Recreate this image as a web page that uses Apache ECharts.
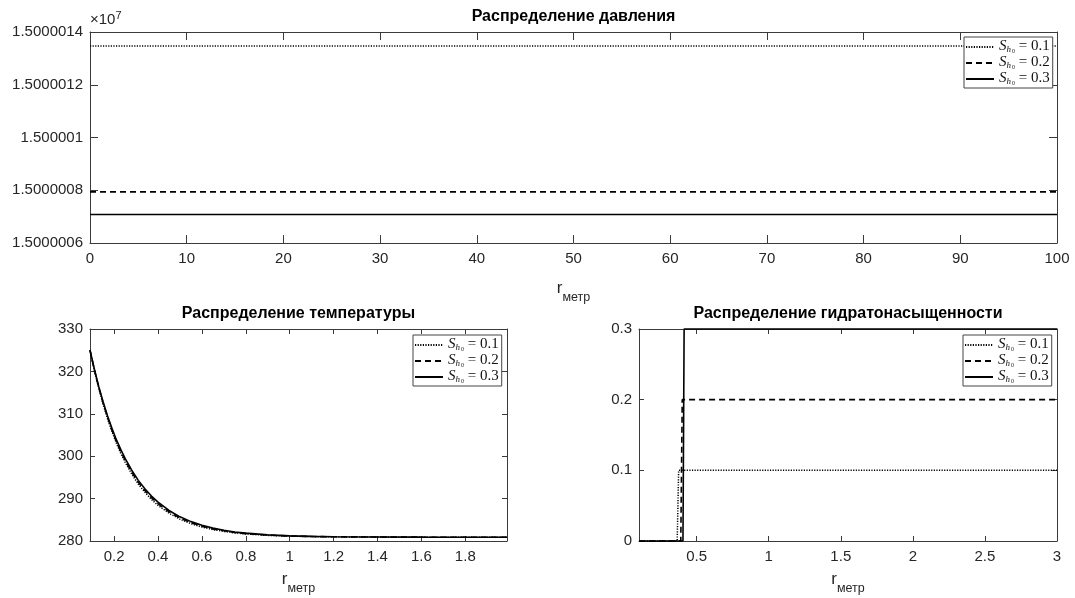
<!DOCTYPE html>
<html>
<head>
<meta charset="utf-8">
<script src="https://cdn.jsdelivr.net/npm/echarts@6/dist/echarts.min.js"></script>
<style>html,body{margin:0;padding:0;background:#fff;}#c{width:1075px;height:598px;}</style>
</head>
<body>
<div id="c"></div>
<script>
// ---- data ----
const presX = [0, 10, 20, 30, 40, 50, 60, 70, 80, 90, 100];
const presS1 = [15000013.47, 15000013.47, 15000013.47, 15000013.47, 15000013.47, 15000013.47, 15000013.47, 15000013.47, 15000013.47, 15000013.47, 15000013.47];
const presS2 = [15000007.94, 15000007.94, 15000007.94, 15000007.94, 15000007.94, 15000007.94, 15000007.94, 15000007.94, 15000007.94, 15000007.94, 15000007.94];
const presS3 = [15000007.08, 15000007.08, 15000007.08, 15000007.08, 15000007.08, 15000007.08, 15000007.08, 15000007.08, 15000007.08, 15000007.08, 15000007.08];

const tempX = [0.09,0.11,0.13,0.15,0.17,0.19,0.21,0.23,0.25,0.28,0.31,0.34,0.37,0.40,0.45,0.50,0.55,0.60,0.65,0.70,0.75,0.80,0.90,1.00,1.10,1.20,1.40,1.60,1.80,1.99];
const tempS1 = [325.0,320.2,316.0,312.2,308.8,305.8,303.1,300.7,298.6,295.8,293.4,291.5,289.8,288.4,286.54,285.14,284.08,283.29,282.7,282.25,281.91,281.66,281.33,281.14,281.04,280.98,280.92,280.9,280.9,280.9];
const tempS2 = [325.0,320.35,316.2,312.5,309.15,306.2,303.5,301.15,299.05,296.25,293.85,291.9,290.2,288.8,286.9,285.4,284.3,283.5,282.85,282.4,282.0,281.75,281.4,281.18,281.06,281.0,280.93,280.9,280.9,280.9];
const tempS3 = [325.0,320.5,316.4,312.8,309.5,306.6,303.9,301.6,299.5,296.7,294.3,292.3,290.6,289.15,287.2,285.7,284.57,283.7,283.04,282.53,282.14,281.85,281.45,281.22,281.09,281.01,280.94,280.91,280.9,280.9];

const hydX1 = [0.1, 0.365, 0.375, 3];
const hydS1 = [0, 0, 0.1, 0.1];
const hydX2 = [0.1, 0.39, 0.40, 3];
const hydS2 = [0, 0, 0.2, 0.2];
const hydX3 = [0.1, 0.405, 0.413, 3];
const hydS3 = [0, 0, 0.3, 0.3];

const titles = ['Распределение давления', 'Распределение температуры', 'Распределение гидратонасыщенности'];
const seriesNames = ['a', 'b', 'c'];
const legendValues = ['0.1', '0.2', '0.3'];
const tempXTicks = [0.2,0.4,0.6,0.8,1,1.2,1.4,1.6,1.8];
const hydXTicks = [0.5,1,1.5,2,2.5,3];

// ---- helpers ----
const zip = (xs, ys) => xs.map((x, i) => [x, ys[i]]);
const AX = '#3a3a3a';
const TXT = '#262626';
const SANS = 'Liberation Sans, Arial, Helvetica, sans-serif';
const SERIF = 'Liberation Serif, DejaVu Serif, serif';
const styles = [
  {type: [1.2, 1.4], width: 1.5},
  {type: [6, 4], width: 1.6},
  {type: 'solid', width: 1.6}
];

const xNameStyle = {
  rich: {
    r: {fontFamily: SANS, fontSize: 17, color: TXT, padding: [0, 0, 8, 0]},
    s: {fontFamily: SANS, fontSize: 12.5, color: TXT, padding: [10, 0, 0, 0]}
  }
};

function bottomX(grid, min, max, interval, custom, gap) {
  const a = {
    gridIndex: grid, type: 'value', min: min, max: max, position: 'bottom',
    axisLine: {show: true, onZero: false, lineStyle: {color: AX, width: 1}},
    axisTick: {show: true, inside: true, length: grid === 0 ? 8 : 5, lineStyle: {color: AX}},
    axisLabel: {color: TXT, fontSize: 15, fontFamily: SANS, margin: 8},
    splitLine: {show: false},
    name: '{r|r}{s|метр}', nameLocation: 'middle', nameGap: gap, nameTextStyle: xNameStyle
  };
  if (interval) a.interval = interval;
  if (custom) { a.axisTick.customValues = custom; a.axisLabel.customValues = custom; }
  return a;
}
function topX(grid, min, max, interval, custom, title) {
  const a = {
    gridIndex: grid, type: 'value', min: min, max: max, position: 'top',
    axisLine: {show: true, onZero: false, lineStyle: {color: AX, width: 1}},
    axisTick: {show: true, inside: true, length: grid === 0 ? 8 : 5, lineStyle: {color: AX}},
    axisLabel: {show: false},
    splitLine: {show: false},
    name: title, nameLocation: 'middle', nameGap: 7,
    nameTextStyle: {fontFamily: SANS, fontWeight: 'bold', fontSize: 16, color: '#000', verticalAlign: 'bottom'}
  };
  if (interval) a.interval = interval;
  if (custom) { a.axisTick.customValues = custom; }
  return a;
}
function yAx(grid, min, max, interval, pos, fmt) {
  return {
    gridIndex: grid, type: 'value', min: min, max: max, interval: interval, position: pos,
    axisLine: {show: true, onZero: false, lineStyle: {color: AX, width: 1}},
    axisTick: {show: true, inside: true, length: grid === 0 ? 8 : 5, lineStyle: {color: AX}},
    axisLabel: pos === 'left' ? {color: TXT, fontSize: 15, fontFamily: SANS, margin: 7, formatter: fmt} : {show: false},
    splitLine: {show: false}
  };
}
function legendAt(left, top) {
  return {
    orient: 'vertical', left: left, top: top,
    data: seriesNames, selectedMode: false,
    itemWidth: 28, itemHeight: 14, itemGap: 1,
    padding: [2, 3, 2, 1],
    borderColor: '#444', borderWidth: 1, backgroundColor: '#fff',
    itemStyle: {opacity: 0},
    formatter: n => '{s|S}{h|h}{z|0}{e| = ' + legendValues[seriesNames.indexOf(n)] + '}',
    textStyle: {
      rich: {
        s: {fontFamily: SERIF, fontStyle: 'italic', fontSize: 15, color: '#111', padding: [0, 0, 1, 0]},
        h: {fontFamily: SERIF, fontStyle: 'italic', fontSize: 9, color: '#111', padding: [5, 0, 0, 0]},
        z: {fontFamily: SERIF, fontSize: 6, color: '#111', padding: [8, 0, 0, 1]},
        e: {fontFamily: SERIF, fontSize: 15, color: '#111', padding: [0, 0, 1, 0]}
      }
    }
  };
}
function line(name, xi, data, k) {
  return {
    type: 'line', name: name, xAxisIndex: xi, yAxisIndex: xi, data: data,
    symbol: 'none', showSymbol: false, clip: false, animation: false,
    lineStyle: {color: '#000', width: styles[k].width, type: styles[k].type},
    itemStyle: {color: '#000'}
  };
}

const presFmt = v => parseFloat((v / 1e7).toFixed(7)).toString();

const option = {
  animation: false,
  backgroundColor: '#fff',
  grid: [
    {left: 90, top: 32, width: 967, height: 211},
    {left: 90, top: 329, width: 417, height: 212},
    {left: 639, top: 329, width: 418, height: 212}
  ],
  xAxis: [
    bottomX(0, 0, 100, 10, null, 37),
    topX(0, 0, 100, 10, null, titles[0]),
    bottomX(1, 0.09, 1.99, null, tempXTicks, 30),
    topX(1, 0.09, 1.99, null, tempXTicks, titles[1]),
    bottomX(2, 0.1, 3, null, hydXTicks, 30),
    topX(2, 0.1, 3, null, hydXTicks, titles[2])
  ],
  yAxis: [
    yAx(0, 15000006, 15000014, 2, 'left', presFmt),
    yAx(0, 15000006, 15000014, 2, 'right'),
    yAx(1, 280, 330, 10, 'left'),
    yAx(1, 280, 330, 10, 'right'),
    yAx(2, 0, 0.3, 0.1, 'left'),
    yAx(2, 0, 0.3, 0.1, 'right')
  ],
  legend: [legendAt(964, 37), legendAt(413, 335), legendAt(963, 335)],
  graphic: [{
    type: 'text', left: 90, top: 10,
    style: {
      text: '×10{p|7}',
      font: '15px Liberation Sans', fill: TXT,
      rich: {p: {fontSize: 11, fontFamily: SANS, fill: TXT, color: TXT, padding: [0, 0, 9, 0]}}
    }
  }],
  series: [
    line('a', 0, zip(presX, presS1), 0),
    line('b', 0, zip(presX, presS2), 1),
    line('c', 0, zip(presX, presS3), 2),
    line('a', 2, zip(tempX, tempS1), 0),
    line('b', 2, zip(tempX, tempS2), 1),
    line('c', 2, zip(tempX, tempS3), 2),
    line('a', 4, zip(hydX1, hydS1), 0),
    line('b', 4, zip(hydX2, hydS2), 1),
    line('c', 4, zip(hydX3, hydS3), 2)
  ]
};
const chart = echarts.init(document.getElementById('c'), null, {renderer: 'canvas'});
chart.setOption(option);
</script>
</body>
</html>
